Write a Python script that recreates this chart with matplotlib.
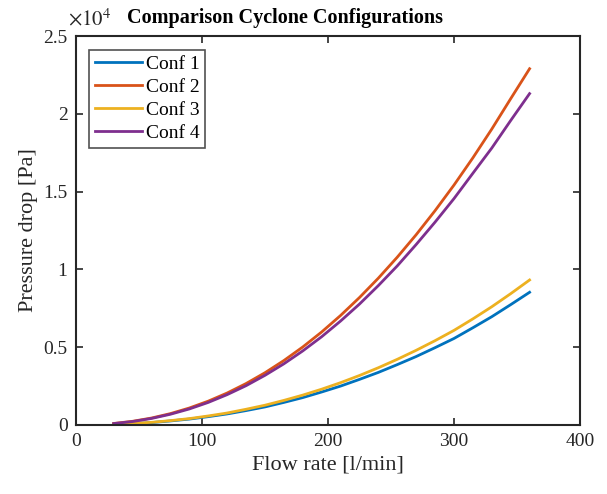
import matplotlib.pyplot as plt

# data (pressure drop in Pa)
flow = [30, 45, 60, 75, 90, 105, 120, 135, 150, 165, 180, 195,
        210, 225, 240, 255, 270, 285, 300, 315, 330, 345, 360]
conf1 = [35, 85, 155, 260, 380, 535, 710, 925, 1160, 1450, 1760, 2120,
         2500, 2930, 3380, 3880, 4400, 4970, 5560, 6250, 6960, 7735, 8530]
conf2 = [97, 237, 447, 731, 1091, 1531, 2054, 2662, 3356, 4140, 5012, 5977,
         7036, 8190, 9438, 10785, 12230, 13777, 15420, 17171, 19020, 20972, 22900]
conf3 = [40, 95, 170, 280, 410, 580, 770, 1010, 1270, 1580, 1920, 2300,
         2720, 3180, 3680, 4220, 4800, 5420, 6080, 6820, 7600, 8440, 9320]
conf4 = [90, 222, 420, 690, 1030, 1450, 1950, 2525, 3190, 3930, 4760, 5672,
         6680, 7770, 8960, 10225, 11600, 13040, 14550, 16180, 17800, 19570, 21300]
labels = ['Conf 1', 'Conf 2', 'Conf 3', 'Conf 4']
colors = ['#0072BD', '#D95319', '#EDB120', '#7E2F8E']

xticks = [0, 100, 200, 300, 400]
yticks = [0, 5000, 10000, 15000, 20000, 25000]
ytick_labels = ['0', '0.5', '1', '1.5', '2', '2.5']

plt.rcParams['font.family'] = ['Liberation Serif', 'DejaVu Serif']
plt.rcParams['mathtext.fontset'] = 'stix'

fig = plt.figure(figsize=(6.07, 4.94), dpi=100)
ax = fig.add_axes([0.125, 0.1397, 0.8305, 0.7873])

for y, lab, c in zip([conf1, conf2, conf3, conf4], labels, colors):
    ax.plot(flow, y, color=c, linewidth=2, label=lab)

ax.set_xlim(0, 400)
ax.set_ylim(0, 25000)
ax.set_xticks(xticks)
ax.set_yticks(yticks)
ax.set_yticklabels(ytick_labels)

dark = '#262626'
for s in ax.spines.values():
    s.set_color(dark)
    s.set_linewidth(1.5)
ax.tick_params(direction='in', top=True, right=True, length=5, width=1.2,
               colors=dark, labelsize=14, pad=6)

ax.set_xlabel('Flow rate [l/min]', fontsize=16, color=dark)
ax.set_ylabel('Pressure drop [Pa]', fontsize=16, color=dark)
# title sits a bit left of the axes centre, as in the reference
fig.text(285 / 607, 1 - 18 / 494, 'Comparison Cyclone Configurations',
         fontsize=14.5, fontweight='bold', ha='center', va='center')
ax.text(-0.015, 1.015, r'$\times10^{4}$', transform=ax.transAxes, fontsize=15,
        color=dark, ha='left', va='bottom')

leg = ax.legend(loc='upper left', fontsize=14, frameon=True, fancybox=False,
                handlelength=2.4, handletextpad=0.2, borderpad=0.3,
                labelspacing=0.28, borderaxespad=0.7)
leg.get_frame().set_edgecolor(dark)
leg.get_frame().set_linewidth(1.2)

fig.savefig('out.png', dpi=100)
